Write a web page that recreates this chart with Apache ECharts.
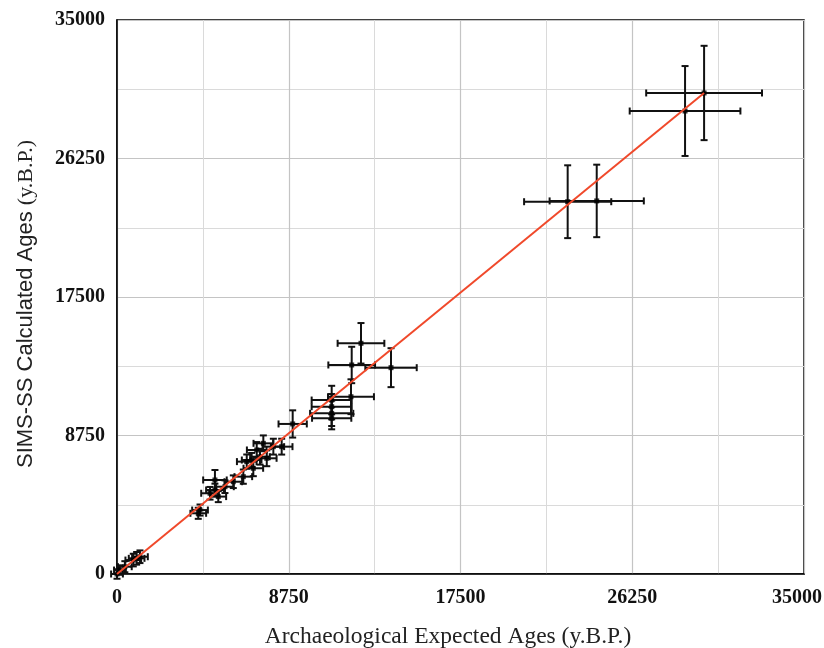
<!DOCTYPE html>
<html>
<head>
<meta charset="utf-8">
<script src="https://cdn.jsdelivr.net/npm/echarts@6/dist/echarts.min.js"></script>
<style>html,body{margin:0;padding:0;background:#fff}#c{width:824px;height:648px}</style>
</head>
<body>
<div id="c"></div>
<script>
// Archaeological expected ages (x), SIMS-SS calculated ages (y), and their errors
const expectedAges = [0,150,400,830,1000,1170,4140,4230,4740,4990,4990,5160,5500,5925,6435,6945,6610,6860,7285,7630,7118,7455,7965,8390,8950,10937,10937,10937,10937,11920,11957,12430,13960,22960,24440,28940,29910];
const calculatedAges = [0,250,460,880,990,1090,3835,4040,5100,5307,5940,4890,5515,5830,6150,6680,7100,7200,7410,7310,7835,8255,8045,8045,9480,10990,10570,10150,9840,11200,13205,14575,13035,23520,23570,29250,30390];
const expectedErr = [300,300,350,400,400,400,400,400,450,450,600,400,450,450,450,500,500,500,500,500,500,500,550,550,720,1020,1020,1100,1000,1170,1190,1190,1310,2220,2400,2820,2950];
const calculatedErr = [300,300,350,400,400,400,350,350,400,400,630,350,400,400,450,500,450,450,500,500,500,500,500,500,860,900,800,800,700,1100,1150,1280,1230,2300,2290,2840,2980];
const fitLineX = [0, 29910];
const fitLineY = [0, 30390];
const tickValues = [0, 8750, 17500, 26250, 35000];

const errData = expectedAges.map((x, i) => [x, calculatedAges[i], expectedErr[i], calculatedErr[i]]);
const pts = expectedAges.map((x, i) => [x, calculatedAges[i]]);
const fitData = fitLineX.map((x, i) => [x, fitLineY[i]]);
const maxTick = tickValues[tickValues.length - 1];

const chart = echarts.init(document.getElementById('c'));
const labelStyle = {fontFamily: 'Liberation Serif', fontSize: 20, fontWeight: 'bold', color: '#111'};
function axis(isY) {
  return {
    type: 'value', min: tickValues[0], max: maxTick, interval: tickValues[1] - tickValues[0],
    nameLocation: 'middle',
    axisLine: {show: true, lineStyle: {color: '#000', width: 1.5}},
    axisTick: {show: false},
    axisLabel: Object.assign({
      margin: isY ? 12 : 14,
      formatter: v => (!isY && v === maxTick) ? '{m|' + v + '}' : String(v),
      rich: {m: Object.assign({padding: [0, 14, 0, 0]}, labelStyle)}
    }, labelStyle),
    splitLine: {show: true, lineStyle: {color: '#c4c4c4', width: 1.2}},
    minorTick: {show: false, splitNumber: 2},
    minorSplitLine: {show: true, lineStyle: {color: '#dadada', width: 1}}
  };
}
const xAx = axis(false);
xAx.name = 'Archaeological Expected Ages (y.B.P.)';
xAx.nameGap = 51;
xAx.nameTextStyle = {fontFamily: 'Liberation Serif', fontSize: 23.5, color: '#222', padding: [0, 25, 0, 0]};
const yAx = axis(true);
yAx.name = '{a|SIMS-SS Calculated Ages }{b|(y.B.P.)}';
yAx.nameGap = 80;
yAx.nameTextStyle = {padding: [0, 14, 0, 0], rich: {
  a: {fontFamily: 'Liberation Sans', fontSize: 22, color: '#222'},
  b: {fontFamily: 'Liberation Serif', fontSize: 22, color: '#222'}
}};
chart.setOption({
  animation: false,
  grid: {left: 117, right: 20, top: 20, bottom: 74, show: true, borderColor: '#000', borderWidth: 1.5, outerBoundsMode: 'none', containLabel: false},
  xAxis: xAx,
  yAxis: yAx,
  series: [
    {
      type: 'custom', data: errData, clip: false, z: 3,
      encode: {x: 0, y: 1},
      renderItem: function (params, api) {
        const x = api.value(0), y = api.value(1), ex = api.value(2), ey = api.value(3);
        const l = api.coord([x - ex, y]), r = api.coord([x + ex, y]);
        const t = api.coord([x, y + ey]), b = api.coord([x, y - ey]);
        const cap = 3.5;
        const st = {stroke: '#111', lineWidth: 2};
        const L = (x1, y1, x2, y2) => ({type: 'line', shape: {x1, y1, x2, y2}, style: st});
        return {type: 'group', children: [
          L(l[0], l[1], r[0], r[1]),
          L(t[0], t[1], b[0], b[1]),
          L(l[0], l[1] - cap, l[0], l[1] + cap),
          L(r[0], r[1] - cap, r[0], r[1] + cap),
          L(t[0] - cap, t[1], t[0] + cap, t[1]),
          L(b[0] - cap, b[1], b[0] + cap, b[1])
        ]};
      }
    },
    {
      type: 'scatter', data: pts, symbol: 'rect', symbolSize: 5, z: 4,
      itemStyle: {color: '#000'}
    },
    {
      type: 'line', data: fitData, symbol: 'none', z: 5,
      lineStyle: {color: '#f0492b', width: 2}
    }
  ]
});
</script>
</body>
</html>
